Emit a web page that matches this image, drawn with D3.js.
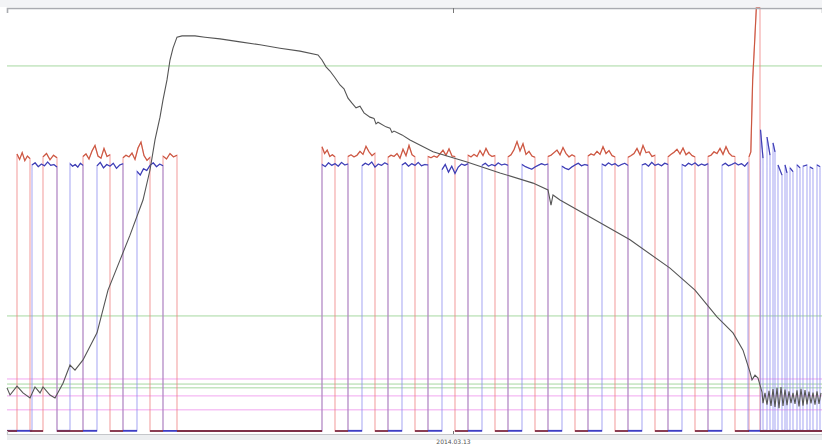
<!DOCTYPE html>
<html>
<head>
<meta charset="utf-8">
<script src="https://cdn.jsdelivr.net/npm/d3@7/dist/d3.min.js"></script>
<style>
  html, body { margin: 0; padding: 0; background: #fff; }
  #chart { width: 822px; height: 445px; overflow: hidden; }
</style>
</head>
<body>
<div id="chart"></div>
<script>
// time in seconds from the left edge, values in % of full scale

// the gray trace (slow rise, long decay)
var tracePoints = [
  [0, 10.2], [6, 8.5], [20, 10.6], [32, 9.0], [46, 7.8], [56, 10.4], [66, 9.0], [72, 10.4],
  [86, 8.5], [96, 7.8], [112, 11.3], [126, 15.6], [136, 14.4], [152, 16.8], [180, 23.2],
  [202, 33.3], [226, 40.4], [246, 46.3], [272, 54.6], [286, 61.7], [296, 68.8], [306, 74.2],
  [312, 78.3], [320, 83.0], [326, 87.7], [332, 90.5], [340, 93.1], [350, 93.4], [376, 93.4],
  [396, 93.1], [426, 92.7], [466, 92.0], [506, 91.3], [546, 90.5], [586, 89.8], [622, 88.9],
  [630, 87.7], [638, 86.1], [646, 85.1], [656, 83.5], [666, 81.8], [674, 80.9], [682, 78.7],
  [690, 77.5], [698, 76.4], [706, 76.8], [714, 75.2], [726, 74.2], [734, 73.9], [738, 72.6],
  [742, 73.0], [758, 71.9], [766, 71.6], [770, 70.6], [774, 70.9], [790, 70.0], [806, 68.8],
  [852, 66.0], [920, 63.6], [986, 61.0], [1052, 58.6],
  [1082, 57.0], [1088, 53.4], [1092, 55.8], [1106, 54.6], [1166, 50.6], [1246, 45.2],
  [1326, 38.5], [1376, 33.3], [1420, 27.0], [1452, 23.2], [1472, 19.1], [1486, 13.9],
  [1490, 12.1], [1496, 13.2], [1502, 12.5], [1510, 9.2],
  [1512, 6.6], [1516, 9.0], [1520, 6.2], [1524, 9.5], [1528, 5.9], [1532, 9.9], [1536, 5.7],
  [1540, 10.2], [1544, 5.4], [1548, 10.4], [1552, 5.9], [1556, 9.8], [1560, 6.1], [1564, 9.4],
  [1568, 6.6], [1572, 9.0], [1576, 6.4], [1580, 9.6], [1584, 5.8], [1588, 10.0], [1592, 6.0],
  [1596, 9.7], [1600, 6.3], [1604, 9.3], [1608, 6.5], [1612, 9.1], [1616, 6.2], [1620, 9.4],
  [1624, 6.4], [1628, 9.0]
];

// red channel: [start, end, levels while high]; low everywhere else
var redHigh = [
  [20, 46, [65.5, 64.2, 65.8, 63.9, 65.0, 64.4]],
  [72, 100, [64.8, 65.6, 64.1, 65.2, 64.6]],
  [152, 206, [64.9, 65.5, 64.3, 66.2, 67.5, 65.0, 64.5, 66.8, 64.9, 65.3]],
  [232, 286, [64.6, 65.2, 64.8, 65.7, 64.2, 66.9, 68.3, 65.1, 64.0, 64.7]],
  [312, 340, [65.0, 64.3, 65.6, 64.8, 65.2]],
  [630, 656, [67.2, 65.6, 66.4, 64.9, 65.3, 64.8]],
  [682, 736, [64.9, 65.3, 64.8, 65.2, 66.1, 65.4, 67.3, 66.0, 65.1, 65.7]],
  [762, 816, [64.7, 65.2, 64.9, 65.6, 64.5, 66.6, 65.1, 67.5, 65.3, 64.8]],
  [842, 896, [64.9, 64.6, 65.0, 64.7, 65.5, 66.4, 65.2, 66.7, 65.0, 64.9]],
  [922, 976, [65.2, 64.8, 65.4, 64.9, 66.3, 65.1, 66.8, 65.4, 64.9, 65.1]],
  [1002, 1056, [64.8, 65.3, 66.5, 68.4, 66.2, 67.9, 65.4, 66.1, 65.0, 64.7]],
  [1082, 1136, [64.9, 65.2, 65.8, 66.4, 65.3, 67.0, 65.6, 64.8, 65.3, 64.9]],
  [1162, 1216, [65.0, 65.5, 65.2, 66.1, 65.4, 67.2, 65.6, 66.3, 65.1, 64.8]],
  [1242, 1296, [64.7, 65.1, 65.6, 66.8, 65.3, 67.5, 65.8, 66.0, 64.9, 65.2]],
  [1322, 1376, [64.8, 65.4, 65.9, 66.6, 65.5, 66.9, 65.3, 65.9, 65.1, 64.8]],
  [1402, 1456, [64.9, 65.2, 66.0, 65.6, 66.8, 65.4, 67.2, 65.7, 65.0, 64.9]],
  [1484, 1506, [64.8, 66.0, 83.0, 91.3, 100, 100, 100]]
];

// blue channel
var blueHigh = [
  [50, 100, [62.9, 63.4, 62.5, 63.1, 62.7, 63.6, 62.8, 63.0, 62.4]],
  [126, 152, [63.2, 62.6, 63.0, 62.4, 63.3, 62.8]],
  [180, 232, [62.7, 63.5, 62.2, 63.0, 62.6, 63.3, 62.1, 62.9, 63.2]],
  [260, 312, [61.4, 60.5, 62.0, 61.6, 62.8, 63.4, 62.5, 63.1, 62.7]],
  [630, 682, [63.0, 62.5, 63.4, 62.8, 63.2, 62.6, 63.5, 62.9, 63.1]],
  [710, 762, [62.7, 63.3, 62.9, 63.6, 62.4, 63.1, 62.8, 63.4, 63.0]],
  [790, 842, [62.9, 63.4, 62.6, 63.2, 62.8, 63.5, 62.7, 63.0, 62.9]],
  [870, 922, [61.8, 63.0, 61.2, 62.6, 60.9, 62.4, 63.1, 62.8, 63.2]],
  [950, 1002, [62.8, 63.3, 62.6, 63.0, 62.7, 63.4, 62.9, 63.1, 62.8]],
  [1030, 1082, [63.0, 62.5, 62.2, 61.9, 62.4, 62.8, 63.2, 62.9, 63.1]],
  [1110, 1162, [62.6, 62.1, 61.8, 62.4, 62.9, 63.3, 62.7, 63.0, 62.8]],
  [1190, 1242, [63.1, 62.7, 63.4, 62.9, 63.2, 62.6, 63.0, 63.3, 62.8]],
  [1270, 1322, [62.9, 63.2, 62.6, 63.5, 62.8, 63.1, 62.7, 63.3, 63.0]],
  [1350, 1402, [63.0, 62.6, 63.3, 62.9, 63.4, 62.7, 63.1, 62.8, 63.2]],
  [1430, 1482, [62.8, 63.3, 62.7, 63.0, 63.4, 62.9, 63.2, 62.6, 63.5]],
  [1507, 1512, [71.2, 64.5]],
  [1520, 1526, [69.5, 65.2]],
  [1532, 1536, [68.1, 66.0]],
  [1542, 1550, [62.9, 60.5]],
  [1556, 1560, [62.9, 61.0]],
  [1566, 1572, [62.2, 61.3]],
  [1580, 1586, [62.9, 62.2]],
  [1592, 1600, [62.6, 62.9]],
  [1606, 1612, [62.4, 62.0]],
  [1620, 1626, [62.9, 62.5]]
];

var redLow = 0.0;
var blueLow = 0.05;

// limit lines
var greenLimits = [86.3, 27.2, 11.1, 10.2];
var pinkLimits = [12.3, 8.3, 5.0];

var tickTimes = [892];
var tickLabels = ["2014.03.13"];

var tEnd = 1630;

var width = 822, height = 445;

var x = d3.scaleLinear().domain([0, tEnd]).range([7, 822]);
var y = d3.scaleLinear().domain([0, 100]).range([431, 8]);

var svg = d3.select("#chart").append("svg")
    .attr("width", width)
    .attr("height", height);

// light band above the plot
svg.append("rect")
    .attr("x", 0).attr("y", 0)
    .attr("width", width).attr("height", 7)
    .attr("fill", "#f3f4f6");

svg.append("rect")
    .attr("x", 7).attr("y", 435)
    .attr("width", width).attr("height", 5)
    .attr("fill", "#eceef0");

var plot = svg.append("g");

// limit lines
plot.selectAll(".green").data(greenLimits).enter().append("line")
    .attr("class", "green")
    .attr("x1", x(0)).attr("x2", width)
    .attr("y1", d => y(d)).attr("y2", d => y(d))
    .attr("stroke", "#a6d8a0").attr("stroke-width", 1);

plot.selectAll(".pink").data(pinkLimits).enter().append("line")
    .attr("class", "pink")
    .attr("x1", x(0)).attr("x2", width)
    .attr("y1", d => y(d)).attr("y2", d => y(d))
    .attr("stroke", "#f2a6f0").attr("stroke-width", 1);

function stepPoints(highs, low) {
    var pts = [[0, low]];
    highs.forEach(function(h) {
        var s = h[0], e = h[1], lv = h[2];
        pts.push([s, low]);
        lv.forEach(function(v, i) {
            pts.push([s + (e - s) * i / (lv.length - 1), v]);
        });
        pts.push([e, low]);
    });
    pts.push([tEnd, low]);
    return pts;
}

function highPoints(h) {
    var s = h[0], e = h[1], lv = h[2];
    return lv.map(function(v, i) { return [s + (e - s) * i / (lv.length - 1), v]; });
}

function lowGaps(highs, low) {
    var gaps = [], prev = 0;
    highs.forEach(function(h) {
        if (h[0] > prev) gaps.push([[prev, low], [h[0], low]]);
        prev = h[1];
    });
    if (prev < tEnd) gaps.push([[prev, low], [tEnd, low]]);
    return gaps;
}

var line = d3.line().x(d => x(d[0])).y(d => y(d[1]));

// edges: whole step signal drawn light
function drawEdges(highs, low, color) {
    plot.append("path")
        .attr("d", line(stepPoints(highs, low)))
        .attr("fill", "none")
        .attr("stroke", color)
        .attr("stroke-width", 1.3)
        .attr("stroke-opacity", 0.6);
}

function drawLows(highs, low, color) {
    plot.selectAll(null).data(lowGaps(highs, low)).enter().append("path")
        .attr("d", d => line(d))
        .attr("fill", "none")
        .attr("stroke", color)
        .attr("stroke-width", 1.8);
}

function drawHighs(highs, color) {
    plot.selectAll(null).data(highs).enter().append("path")
        .attr("d", d => line(highPoints(d)))
        .attr("fill", "none")
        .attr("stroke", color)
        .attr("stroke-width", 1.1);
}

drawEdges(redHigh, redLow, "#ee7f7f");
drawEdges(blueHigh, blueLow, "#8a8aee");
drawLows(blueHigh, blueLow, "#3e3ec4");
drawLows(redHigh, redLow, "#7e3048");
drawHighs(redHigh, "#c9573f");
drawHighs(blueHigh, "#3b3bb0");

// gray trace on top
plot.append("path")
    .attr("d", line(tracePoints))
    .attr("fill", "none")
    .attr("stroke", "#555")
    .attr("stroke-width", 1.1);

// frame and time axis
var topAxis = d3.axisBottom(x).tickValues(tickTimes).tickFormat(() => "").tickSize(5);
svg.append("g")
    .attr("transform", "translate(0,8)")
    .call(topAxis)
    .call(g => g.select(".domain").attr("stroke", "#a9abb0").attr("stroke-width", 1.6))
    .call(g => g.selectAll(".tick line").attr("stroke", "#777"));

var bottomAxis = d3.axisBottom(x).tickValues(tickTimes)
    .tickFormat((d, i) => tickLabels[i]).tickSize(-3).tickPadding(6);
svg.append("g")
    .attr("transform", "translate(0,434)")
    .call(bottomAxis)
    .call(g => g.select(".domain").attr("stroke", "#c4c6ca").attr("stroke-width", 1.2))
    .call(g => g.selectAll(".tick line").attr("stroke", "#777"))
    .call(g => g.selectAll(".tick text")
        .attr("font-family", "DejaVu Sans, sans-serif")
        .attr("font-size", "6px")
        .attr("fill", "#555"));
</script>
</body>
</html>
